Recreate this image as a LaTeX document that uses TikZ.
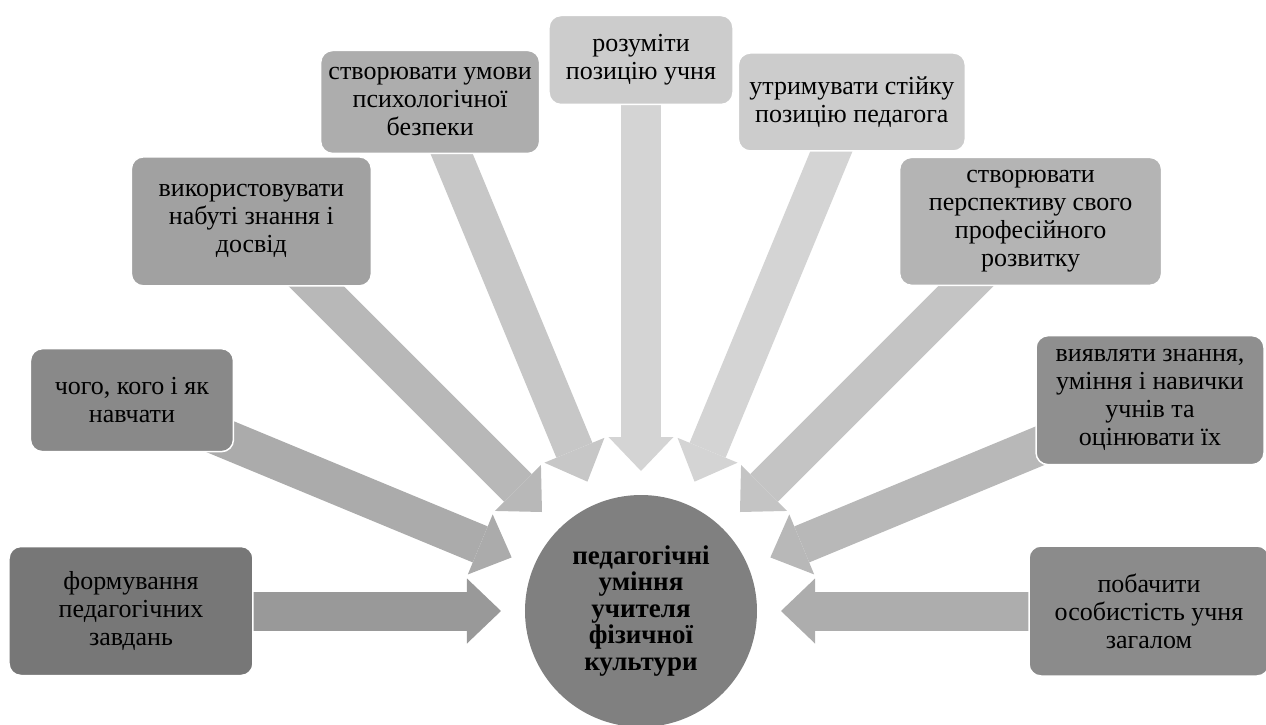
\documentclass[tikz,border=0pt]{standalone}
\usepackage{fontspec}
\setmainfont{Liberation Serif}
\newfontfamily\timescyr{Liberation Serif}
\usetikzlibrary{arrows.meta,backgrounds}

\definecolor{fillA}{HTML}{777777}
\definecolor{fillB}{HTML}{898989}
\definecolor{fillC}{HTML}{A1A1A1}
\definecolor{fillD}{HTML}{ADADAD}
\definecolor{fillE}{HTML}{CCCCCC}
\definecolor{fillF}{HTML}{B4B4B4}
\definecolor{fillG}{HTML}{8F8F8F}
\definecolor{fillH}{HTML}{8B8B8B}
\definecolor{hub}{HTML}{808080}

\tikzset{
  skill/.style={rectangle, rounded corners=12pt, draw=white, line width=1.5pt,
    align=center, inner sep=2pt, font=\timescyr\fontsize{26}{28}\selectfont},
  hubnode/.style={circle, fill=hub, minimum size=232pt, inner sep=0pt,
    align=center, font=\timescyr\fontsize{27}{26.5}\selectfont\bfseries},
  fat/.style={line width=39pt, -{Triangle[length=34pt,width=65pt,line width=0pt]}}
}

\begin{document}
\begin{tikzpicture}[x=1pt,y=1pt]
		\useasboundingbox (-641,-113) rectangle (625,611); % page size
		\node[hubnode] (c) at (0,0) {педагогічні\\уміння\\учителя\\фізичної\\культури};
		% boxes round the hub
		\node[skill, fill=fillA, minimum width=244pt, minimum height=129pt] (b1) at (180:510) {формування\\педагогічних\\завдань};
		\node[skill, fill=fillB, minimum width=203pt, minimum height=103pt] (b2) at (157.5:551) {чого, кого і як\\навчати};
		\node[skill, fill=fillC, minimum width=240pt, minimum height=129pt] (b3) at (135:551) {використовувати\\набуті знання і\\досвід};
		\node[skill, fill=fillD, minimum width=219pt, minimum height=103pt] (b4) at (112.5:551) {створювати умови\\психологічної\\безпеки};
		\node[skill, fill=fillE, minimum width=184pt, minimum height=89pt] (b5) at (90:551) {розуміти\\позицію учня};
		\node[skill, fill=fillE, minimum width=227pt, minimum height=98pt] (b6) at (67.5:551) {утримувати стійку\\позицію педагога};
		\node[skill, fill=fillF, minimum width=262pt, minimum height=128pt] (b7) at (45:551) {створювати\\перспективу свого\\професійного\\розвитку};
		\node[skill, fill=fillG, minimum width=228pt, minimum height=129pt] (b8) at (22.5:551) {виявляти знання,\\уміння і навички\\учнів та\\оцінювати їх};
		\node[skill, fill=fillH, minimum width=240pt, minimum height=130pt] (b9) at (0:508) {побачити\\особистість учня\\загалом};
		% arrow tips
		\foreach \i in {1,...,9}
		\coordinate (t\i) at ({180-(\i-1)*22.5}:140);
		\begin{scope}[on background layer]
		\foreach \i/\g in {1/40,2/33,3/28,4/22,5/17,6/17,7/23,8/28,9/32}
		\draw[fat, draw=black!\g!white, fill=black!\g!white] (b\i.center) -- (t\i);
		\end{scope}
\end{tikzpicture}
\end{document}
